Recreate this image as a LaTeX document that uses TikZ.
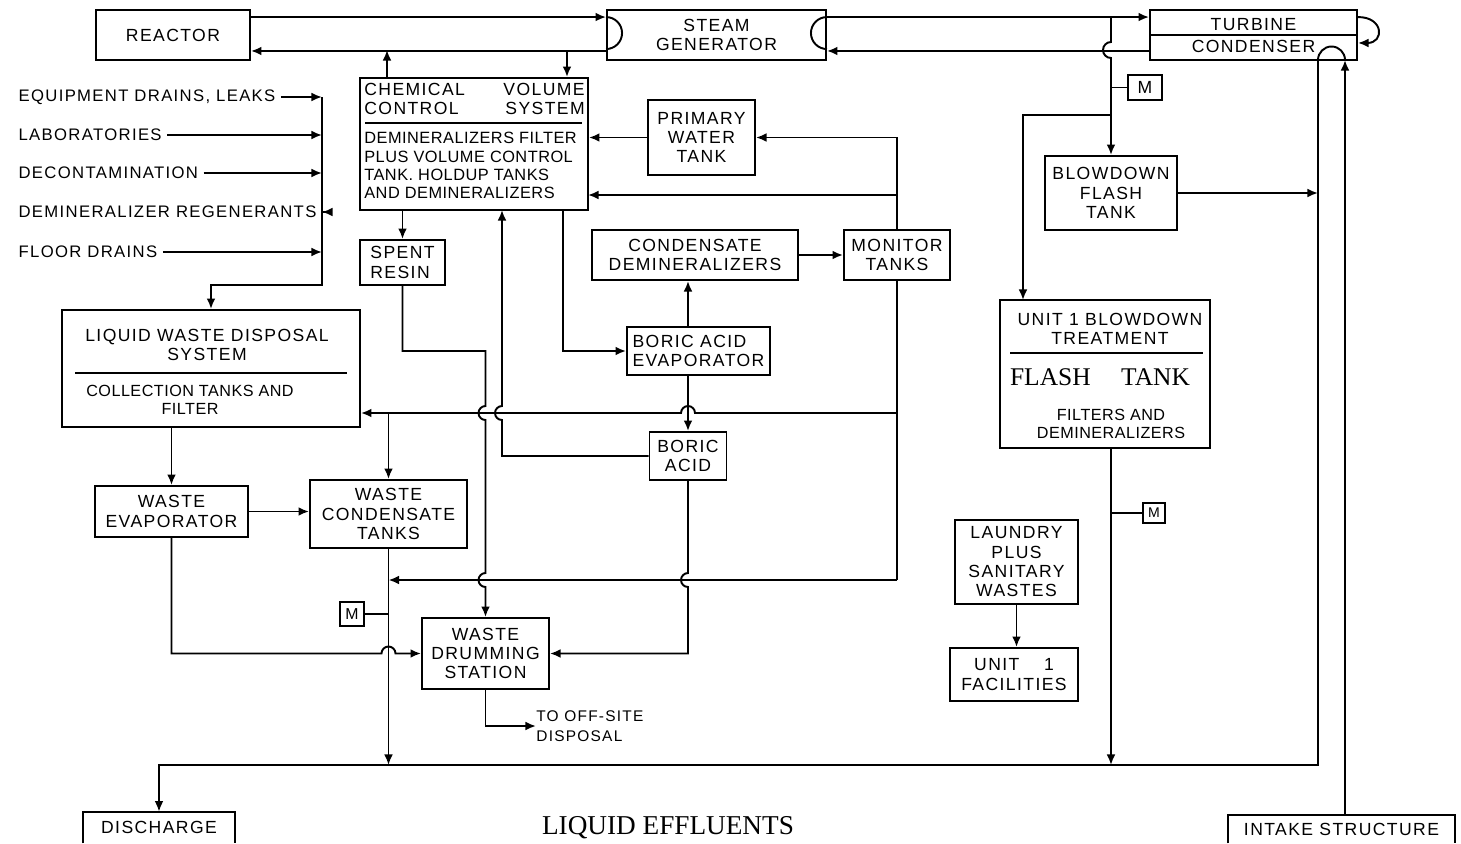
\documentclass[tikz,border=0pt]{standalone}
\usepackage{fontspec}
\setmainfont{Liberation Sans}[LetterSpace=8]
\newfontfamily\tightfont{Liberation Sans}[LetterSpace=3]
\newfontfamily\typefont{Liberation Serif}
\usepackage{tikz}
\usetikzlibrary{arrows.meta,calc}

\tikzset{
  pipe/.style={line width=1.1pt},
  flow/.style={pipe,-{Latex[length=6pt,width=5pt]}},
  unit/.style={draw,line width=1.1pt,align=center,inner sep=1pt,
    font=\fontsize{10}{11}\selectfont},
  meter/.style={draw,line width=1.1pt,inner sep=0pt,font=\fontsize{8}{8}\selectfont},
  source/.style={anchor=west,inner sep=3pt,font=\fontsize{9.5}{10}\selectfont},
  note/.style={align=center,font=\tightfont\fontsize{9.2}{10.6}\selectfont},
}

\begin{document}
\begin{tikzpicture}[x=0.02cm,y=-0.02cm]
  \useasboundingbox (0,0) rectangle (1461,843);

  % plant units
  \node[unit,minimum width=3.08cm,minimum height=1cm] (reactor) at (173,35) {REACTOR};
  \node[unit,minimum width=4.38cm,minimum height=1cm] (steamgen) at (716.5,35) {STEAM\\GENERATOR};
  \node[unit,minimum width=4.14cm,minimum height=1cm] (turbine) at (1253.5,35) {};
  \node[font=\fontsize{10}{11}\selectfont] at (1253.5,25) {TURBINE};
  \node[font=\fontsize{10}{11}\selectfont] at (1253.5,46) {CONDENSER};
  \draw[pipe] (turbine.west) -- (turbine.east);

  \node[unit,minimum width=4.56cm,minimum height=2.64cm] (cvcs) at (474,144) {};
  \node[anchor=north west,align=left,inner sep=0pt,font=\fontsize{10}{10.6}\selectfont] at (364,83) {CHEMICAL\\CONTROL};
  \node[anchor=north east,align=right,inner sep=0pt,font=\fontsize{10}{10.6}\selectfont] at (585,83) {VOLUME\\SYSTEM};
  \draw[pipe] (365,123) -- (582,123);
  \node[anchor=north west,align=left,inner sep=0pt,font=\tightfont\fontsize{9.3}{10.4}\selectfont] at (364,132)
    {DEMINERALIZERS FILTER\\PLUS VOLUME CONTROL\\TANK. HOLDUP TANKS\\AND DEMINERALIZERS};

  \node[unit,minimum width=2.14cm,minimum height=1.5cm] (pwt) at (701.5,137.5) {PRIMARY\\WATER\\TANK};
  \node[unit,minimum width=1.7cm,minimum height=0.9cm,align=left] (spent) at (402.5,262.5) {SPENT\\RESIN};
  \node[unit,minimum width=4.12cm,minimum height=1cm] (conddemin) at (695,255) {CONDENSATE\\DEMINERALIZERS};
  \node[unit,minimum width=2.12cm,minimum height=1cm] (monitor) at (897,255) {MONITOR\\TANKS};
  \node[unit,minimum width=2.86cm,minimum height=0.96cm,align=left] (boricevap) at (698.5,351) {BORIC ACID\\EVAPORATOR};
  \node[unit,minimum width=1.54cm,minimum height=0.96cm] (boric) at (688,456) {BORIC\\ACID};

  \node[unit,minimum width=5.96cm,minimum height=2.34cm] (lwds) at (211,368.5) {};
  \node[align=center,font=\fontsize{10}{11}\selectfont] at (207,345) {LIQUID WASTE DISPOSAL\\SYSTEM};
  \draw[pipe] (75,373) -- (347,373);
  \node[note] at (190,400) {COLLECTION TANKS AND\\FILTER};

  \node[unit,minimum width=3.06cm,minimum height=1.02cm] (wasteevap) at (171.5,511.5) {WASTE\\EVAPORATOR};
  \node[unit,minimum width=3.14cm,minimum height=1.36cm] (wct) at (388.5,514) {WASTE\\CONDENSATE\\TANKS};
  \node[unit,minimum width=2.54cm,minimum height=1.42cm] (wds) at (485.5,653.5) {WASTE\\DRUMMING\\STATION};

  \node[unit,minimum width=2.64cm,minimum height=1.48cm] (flashtank) at (1111,193) {BLOWDOWN\\FLASH\\TANK};
  \node[unit,minimum width=4.2cm,minimum height=2.96cm] (bdtreat) at (1105,374) {};
  \node[align=center,font=\fontsize{10}{10.6}\selectfont] at (1110,329) {UNIT 1 BLOWDOWN\\TREATMENT};
  \draw[pipe] (1010,353) -- (1203,353);
  \node[font=\typefont\fontsize{14.5}{15}\selectfont] at (1100,377) {FLASH\hspace{1.2em}TANK};
  \node[note] at (1111,424) {FILTERS AND\\DEMINERALIZERS};

  \node[unit,minimum width=2.46cm,minimum height=1.68cm] (laundry) at (1016.5,562) {LAUNDRY\\PLUS\\SANITARY\\WASTES};
  \node[unit,minimum width=2.56cm,minimum height=1.06cm] (facilities) at (1014,674.5) {UNIT\hspace{1.4em}1\\FACILITIES};

  \node[meter,minimum width=0.68cm,minimum height=0.5cm,font=\fontsize{10}{10}\selectfont] (meterA) at (1145,87.5) {M};
  \node[meter,minimum width=0.44cm,minimum height=0.4cm] (meterB) at (1154,513) {M};
  \node[meter,minimum width=0.48cm,minimum height=0.48cm,font=\fontsize{9}{9}\selectfont] (meterC) at (352,614) {M};

  \node[minimum width=3.04cm,minimum height=0.62cm,font=\fontsize{10}{11}\selectfont] (discharge) at (159,827.5) {DISCHARGE};
  \draw[pipe] (discharge.south west) |- (discharge.north) -| (discharge.south east);
  \node[minimum width=4.54cm,minimum height=0.56cm,font=\fontsize{10}{11}\selectfont] (intake) at (1341.5,829) {INTAKE STRUCTURE};
  \draw[pipe] (intake.south west) |- (intake.north) -| (intake.south east);

  \node[font=\typefont\fontsize{15.5}{16}\selectfont] (caption) at (668,828) {LIQUID EFFLUENTS};

  % waste sources
  \node[source] (drains) at (13,97) {EQUIPMENT DRAINS, LEAKS};
  \node[source] (labs) at (13,135) {LABORATORIES};
  \node[source] (decon) at (13,173) {DECONTAMINATION};
  \node[source] (regen) at (13,212) {DEMINERALIZER REGENERANTS};
  \node[source] (floor) at (13,252) {FLOOR DRAINS};
  \coordinate (header) at (322,97);
  \coordinate (headend) at (322,285);
  \foreach \src in {drains,labs,decon,regen,floor}
    \draw[flow] (\src.east) -- (\src.east -| header);
  \draw[flow] (header) -- (headend) -| (lwds.north);

  % primary loop
  \draw[flow] ([yshift=-0.16cm]reactor.north east) -- ([yshift=-0.16cm]steamgen.north west);
  \draw[flow] ([yshift=0.2cm]steamgen.south west) -- ([yshift=0.2cm]reactor.south east);
  \draw[pipe] ([yshift=-0.16cm]steamgen.north west) arc[start angle=90,end angle=-90,radius=0.32cm];
  \draw[pipe] ([yshift=-0.16cm]steamgen.north east) arc[start angle=90,end angle=270,radius=0.32cm];
  \coordinate (charging) at (387,50);
  \coordinate (letdown) at (567,50);
  \draw[flow] (cvcs.north -| charging) -- (charging);
  \draw[flow] (letdown) -- (cvcs.north -| letdown);

  % secondary side
  \draw[flow] ([yshift=-0.16cm]steamgen.north east) -- ([yshift=-0.16cm]turbine.north west);
  \draw[flow] ([yshift=0.2cm]turbine.south west) -- ([yshift=0.2cm]steamgen.south east);
  \draw[flow] ([yshift=-0.16cm]turbine.north east) to[out=0,in=0,looseness=2.6] ([yshift=0.36cm]turbine.south east);
  \coordinate (bdtap) at (1111,18);
  \coordinate (bdsplit) at (1111,115);
  \coordinate (bdinlet) at (1023,300);
  \draw[flow] (bdtap) -- ++(0,24) arc[start angle=90,end angle=270,radius=0.16cm] -- (flashtank.north);
  \draw[pipe] (flashtank.north |- meterA) -- (meterA.west);
  \draw[flow] (bdsplit) -| (bdinlet);

  % circulating water
  \coordinate (cwout) at (1318,60);
  \coordinate (cwin) at (1345,60);
  \coordinate (outfall) at (1318,765);
  \draw[pipe] (cwout) arc[start angle=180,end angle=0,radius=0.27cm];
  \draw[flow] (intake.north -| cwin) -- (cwin);
  \draw[flow] (cwout) -- (outfall) -| (discharge.north);
  \draw[flow] (flashtank.east) -- (flashtank.east -| cwout);
  \draw[flow] (bdtreat.south -| flashtank.south) -- (flashtank.south |- outfall);
  \draw[pipe] (flashtank.south |- meterB) -- (meterB.west);
  \draw[flow] (laundry.south) -- (laundry.south |- facilities.north);

  % chemical and volume control
  \coordinate (cvreturn) at (588,195);
  \coordinate (bafeed) at (563,210);
  \coordinate (bamakeup) at (502,210);
  \coordinate (lwreturn) at (897,413);
  \coordinate (wcreturn) at (897,580);
  \coordinate (resinturn) at (485.5,351);
  \draw[flow] (pwt.west) -- (pwt.west -| cvcs.east);
  \draw[flow] (monitor.north) |- (pwt.east);
  \draw[flow] (monitor.north |- cvreturn) -- (cvreturn);
  \draw[flow] (cvcs.south -| spent.north) -- (spent.north);
  \draw[flow] (conddemin.east) -- (monitor.west);
  \draw[flow] (bafeed) |- (boricevap.west);
  \draw[flow] (boricevap.north -| boric.north) -- (conddemin.south -| boric.north);
  \draw[flow] (boricevap.south -| boric.north) -- (boric.north);
  \draw[flow] (boric.west) -| ($(bamakeup |- lwreturn)+(0,7)$)
    arc[start angle=-90,end angle=-270,radius=0.14cm] -- (bamakeup);

  % liquid waste
  \draw[pipe] (monitor.south) -- (wcreturn);
  \draw[flow] (lwreturn) -- ($(lwreturn -| boric.north)+(7,0)$)
    arc[start angle=0,end angle=180,radius=0.14cm] -- (lwreturn -| lwds.east);
  \draw[flow] (wct.north |- lwreturn) -- (wct.north);
  \draw[flow] (wcreturn) -- (wcreturn -| wct.south);
  \draw[flow] (spent.south) |- (resinturn)
    -- ($(resinturn |- lwreturn)+(0,-7)$) arc[start angle=90,end angle=270,radius=0.14cm]
    -- ($(resinturn |- wcreturn)+(0,-7)$) arc[start angle=90,end angle=270,radius=0.14cm]
    -- (wds.north);
  \draw[flow] (boric.south) -- ($(boric.south |- wcreturn)+(0,-7)$)
    arc[start angle=90,end angle=270,radius=0.14cm] |- (wds.east);
  \draw[flow] (lwds.south -| wasteevap.north) -- (wasteevap.north);
  \draw[flow] (wasteevap.east) -- (wasteevap.east -| wct.west);
  \draw[flow] (wasteevap.south) |- ($(wct.south |- wds.west)+(-7,0)$)
    arc[start angle=180,end angle=0,radius=0.14cm] -- (wds.west);
  \draw[flow] (wct.south) -- (wct.south |- outfall);
  \draw[pipe] (meterC.east) -- (meterC.east -| wct.south);
  \node[anchor=west,align=left,inner sep=0pt,font=\fontsize{8.8}{11}\selectfont] (offsite) at (536,726) {TO OFF-SITE\\DISPOSAL};
  \draw[flow] (wds.south) |- (offsite.west);
\end{tikzpicture}
\end{document}
